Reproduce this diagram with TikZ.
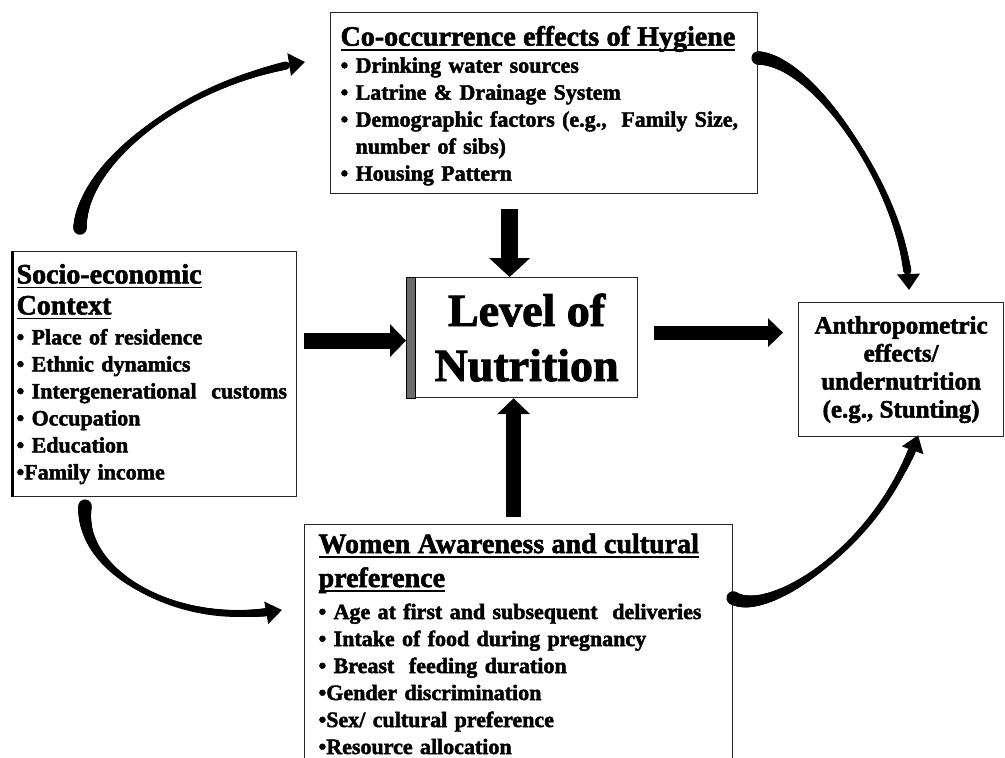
\documentclass[tikz,border=0pt]{standalone}
\usepackage{fontspec}
\setmainfont{Liberation Serif}[BoldFeatures={FakeBold=2}]
\usetikzlibrary{decorations.markings, calc}
\usetikzlibrary{arrows.meta}

\newsavebox{\tituloaux}
\newcommand{\titulo}[1]{\leavevmode{\fontsize{28}{32}\selectfont\sbox{\tituloaux}{#1}%
    \rlap{\rule[-5pt]{\wd\tituloaux}{1.8pt}}\usebox{\tituloaux}}}

\begin{document}
\begin{tikzpicture}[
    x=1pt, y=1pt,
    caja/.style={draw=black!85, line width=1.2pt, fill=white, inner sep=0pt,
        font=\bfseries\fontsize{22}{27}\selectfont},
    flecha/.style={line width=17pt, -{Triangle[width=40pt, length=19pt]}},
    creciente/.style={
        line width=3.5pt, -{Triangle[width=22pt, length=16pt]},
        decoration={
            markings,
            mark=between positions 0 and 0.93 step 1pt with {
                \pgfmathsetmacro\crt{\pgfkeysvalueof{/pgf/decoration/mark info/distance from start}/\pgfdecoratedpathlength}
                \pgfmathsetmacro\crw{(3.5+10*(1-\crt)^3+6*\crt^3)/2}
                \fill (0,0) circle (\crw pt);
            }
        },
        postaction={decorate}
    }
]

\useasboundingbox (0,0) rectangle (1005,-758); % Marco de la imagen

% Cajas
\node[caja, anchor=north west, text width=407pt, minimum width=427pt, minimum height=181pt, align=left] (hyg) at (330,-12) {%
    \rule{0pt}{25pt}\titulo{Co-occurrence effects of Hygiene}\\
    • Drinking water sources\\
    • Latrine \& Drainage System\\
    • Demographic factors (e.g.,\ \ Family Size,\\
    \phantom{• }number of sibs)\\
    • Housing Pattern};

\node[caja, anchor=north west, text width=276pt, minimum width=284pt, minimum height=245pt, align=left] (soc) at (12,-251) {%
    \titulo{Socio-economic}\\[4pt]
    \titulo{Context}\\[3pt]
    • Place of residence\\
    • Ethnic dynamics\\
    • Intergenerational\ \ customs\\
    • Occupation\\
    • Education\\
    •Family income};

\node[caja, anchor=north west, minimum width=222pt, minimum height=120pt, align=center,
    font=\bfseries\fontsize{46}{55}\selectfont] (lvl) at (415,-277) {Level of\\ Nutrition};

\node[caja, anchor=north west, minimum width=205pt, minimum height=134pt, align=center,
    font=\bfseries\fontsize{25}{28}\selectfont] (anth) at (798,-302) {%
    Anthropometric\\ effects/\\ undernutrition\\ (e.g., Stunting)};

\node[caja, anchor=north west, text width=400pt, minimum width=428pt, inner ysep=9pt, align=left] (wom) at (304,-524) {%
    \titulo{Women Awareness and cultural}\\[7pt]
    \titulo{preference}\\[5pt]
    • Age at first and subsequent\ \ deliveries\\
    • Intake of food during pregnancy\\
    • Breast\ \ feeding duration\\
    •Gender discrimination\\
    •Sex/ cultural preference\\
    •Resource allocation};

% Borde gris de la caja central y borde grueso izquierdo
\draw[fill=gray!85!black, line width=0.8pt] ([xshift=-9pt]lvl.north west) rectangle (lvl.south west);
\draw[line width=3pt] (soc.north west) -- (soc.south west);

% Flechas rectas hacia el nivel de nutricion
\draw[flecha, shorten <=15pt] ([xshift=-17pt]lvl.north |- hyg.south) -- ([xshift=-17pt]lvl.north);
\draw[flecha, line width=15pt, -{Triangle[width=32pt, length=16pt]}, shorten <=7pt]
    ([xshift=-13pt]lvl.south |- wom.north) -- ([xshift=-13pt]lvl.south);
\draw[flecha, line width=16pt, -{Triangle[width=32pt, length=16pt]}, shorten <=7pt]
    ([yshift=-3pt]soc.east |- lvl.west) -- ([xshift=-9pt, yshift=-3pt]lvl.west);
\draw[flecha, line width=14pt, -{Triangle[width=28pt, length=15pt]}, shorten <=16pt, shorten >=15pt]
    ([yshift=5pt]lvl.east) -- ([yshift=5pt]lvl.east -| anth.west);

% Flechas curvas entre cajas
\draw[creciente] ([xshift=68pt, yshift=23pt]soc.north west)
    to[out=88, in=189, out distance=68pt, in distance=116pt] ([xshift=-25pt, yshift=-50pt]hyg.north west);
\draw[creciente] ([yshift=-46pt]hyg.north east)
    to[out=-3, in=92, out distance=60pt, in distance=90pt] ([xshift=8pt, yshift=12pt]anth.north);
\draw[creciente] ([xshift=73pt, yshift=-9pt]soc.south west)
    to[out=265, in=190, out distance=70pt, in distance=100pt] ([xshift=-22pt, yshift=-86pt]wom.north west);
\draw[creciente] ([yshift=-74pt]wom.north east)
    to[out=-30, in=250, out distance=40pt, in distance=120pt] ([xshift=17pt, yshift=2pt]anth.south);

\end{tikzpicture}
\end{document}
